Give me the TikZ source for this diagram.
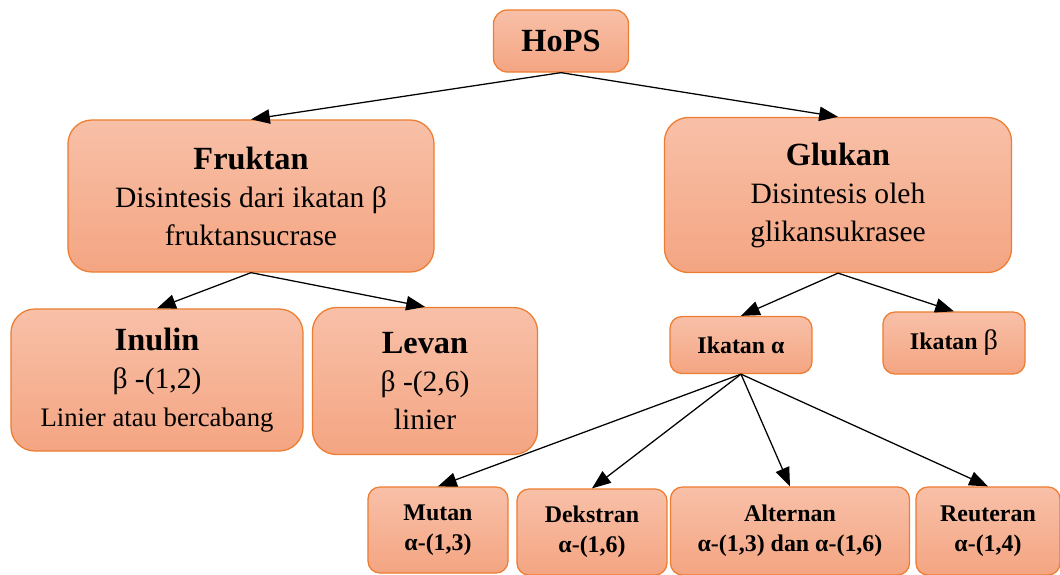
\documentclass[tikz,border=0pt]{standalone}
\usepackage{fontspec}
\setmainfont{Liberation Serif}
\usetikzlibrary{arrows.meta}
\definecolor{boxtop}{RGB}{248,192,168}
\definecolor{boxbot}{RGB}{244,165,130}
\definecolor{boxline}{RGB}{237,125,49}
\begin{document}
\begin{tikzpicture}[x=0.025cm, y=-0.025cm,
		box/.style={draw=boxline, line width=0.9pt, top color=boxtop, bottom color=boxbot,
			rounded corners=0.6cm, align=center, inner sep=0pt,
			font=\fontsize{21}{27}\selectfont},
		smallbox/.style={box, rounded corners=0.3cm, font=\fontsize{17}{21}\selectfont\bfseries},
		arr/.style={-{Triangle[length=0.47cm, width=0.36cm]}, line width=0.9pt}]
	\useasboundingbox (0,0) rectangle (1060,574);

	% top
	\node[box, rounded corners=0.35cm, minimum width=3.375cm, minimum height=1.55cm,
		font=\fontsize{23}{27}\selectfont\bfseries] (hops) at (561,41) {HoPS};

	% second level
	\node[box, minimum width=9.15cm, minimum height=3.8cm] (fruktan) at (251,196)
		{{\fontsize{23}{27}\selectfont\bfseries Fruktan}\\ Disintesis dari ikatan β\\ fruktansucrase};
	\node[box, minimum width=8.675cm, minimum height=3.875cm] (glukan) at (838,195)
		{{\fontsize{23}{27}\selectfont\bfseries Glukan}\\ Disintesis oleh\\ glikansukrasee};

	% fruktan branch
	\node[box, minimum width=7.3cm, minimum height=3.55cm] (inulin) at (157,380)
		{{\fontsize{23}{27}\selectfont\bfseries Inulin}\\ β -(1,2)\\ {\fontsize{19}{27}\selectfont Linier atau bercabang}};
	\node[box, minimum width=5.625cm, minimum height=3.675cm] (levan) at (425,381)
		{{\fontsize{23}{27}\selectfont\bfseries Levan}\\ β -(2,6)\\ linier};

	% glukan branch
	\node[smallbox, minimum width=3.55cm, minimum height=1.425cm] (ikatanA) at (741,345) {Ikatan α};
	\node[smallbox, minimum width=3.55cm, minimum height=1.55cm] (ikatanB) at (954,343)
		{Ikatan {\mdseries\fontsize{20}{20}\selectfont β}};

	\node[smallbox, minimum width=3.5cm, minimum height=2.15cm] (mutan) at (438,530) {Mutan\\ α-(1,3)};
	\node[smallbox, minimum width=3.75cm, minimum height=2.15cm] (dekstran) at (592,532) {Dekstran\\ α-(1,6)};
	\node[smallbox, minimum width=5.975cm, minimum height=2.2cm] (alternan) at (790,531) {Alternan\\ α-(1,3) dan α-(1,6)};
	\node[smallbox, minimum width=3.6cm, minimum height=2.2cm] (reuteran) at (988,531) {Reuteran\\ α-(1,4)};

	% connectors
	\draw[arr] (hops.south) -- (fruktan.north);
	\draw[arr] (hops.south) -- (glukan.north);
	\draw[arr] (fruktan.south) -- (inulin.north);
	\draw[arr] (fruktan.south) -- (levan.north);
	\draw[arr] (glukan.south) -- (ikatanA.north);
	\draw[arr] (glukan.south) -- (ikatanB.north);
	\draw[arr] (ikatanA.south) -- (mutan.north);
	\draw[arr] (ikatanA.south) -- (dekstran.north);
	\draw[arr] (ikatanA.south) -- (alternan.north);
	\draw[arr] (ikatanA.south) -- (reuteran.north);
\end{tikzpicture}
\end{document}
